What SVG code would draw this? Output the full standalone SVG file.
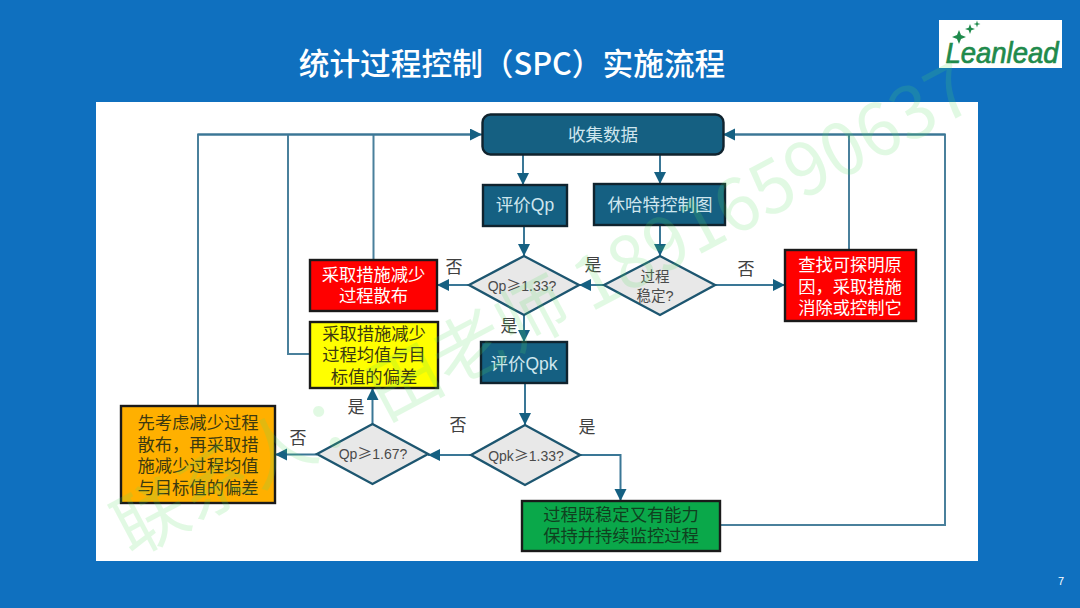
<svg xmlns="http://www.w3.org/2000/svg" width="1080" height="608" viewBox="0 0 1080 608">
<style>
text{font-family:"Liberation Sans","Noto Sans CJK SC",sans-serif;text-anchor:middle}
.cjk{font-family:"Noto Sans CJK SC","Liberation Sans",sans-serif}
.box{stroke:#1a1a1a;stroke-width:2.4}
.blue{fill:#156082;stroke:#10232e;stroke-width:2.4}
.dia{fill:#e8e8e8;stroke:#1d5670;stroke-width:2.4}
.w{fill:#fff;font-size:17.3px}
.y{fill:#cfe6ee;font-size:17.5px}
.d{fill:#3c3a10;font-size:17.3px}
.dk{fill:#4a4a4a;font-size:14px}
.st{fill:#4a4a4a;font-size:14.500px}
.lab{fill:#404040;font-size:17px}
.ln{fill:none;stroke:#4a809c;stroke-width:2}
.ar{fill:none;stroke:#3a7796;stroke-width:2;marker-end:url(#a)}
</style>
<defs>
<marker id="a" markerUnits="userSpaceOnUse" markerWidth="13" markerHeight="13" refX="12" refY="6" orient="auto"><path d="M0 0L12 6L0 12Z" fill="#156082"/></marker>
</defs>
<rect width="1080" height="608" fill="#0f70bf"/>
<rect x="96" y="102" width="882" height="459" fill="#fff"/>
<text id="title" class="cjk" x="512" y="75" font-size="30.700" font-weight="500" fill="#fff">统计过程控制（SPC）实施流程</text>
<g id="logo">
<rect x="939" y="20" width="123" height="48" fill="#fff"/>
<path d="M959 30l2 5 5 2-5 2-2 5-2-5-5-2 5-2zM970 24l1.300 3.700 3.700 1.300-3.700 1.300-1.300 3.700-1.300-3.700-3.700-1.300 3.700-1.300zM977 20.500l.8 2.700 2.700.8-2.700.8-.8 2.700-.8-2.700-2.700-.8 2.700-.8z" fill="#1f8a4c"/>
<text x="1002" y="63" font-size="29" font-style="italic" stroke="#1f8a4c" stroke-width=".7" fill="#1f8a4c" textLength="113" lengthAdjust="spacingAndGlyphs">Leanlead</text>
</g>
<text id="page" x="1061" y="585" font-size="11" fill="#fff">7</text>
<g id="connectors">
<path class="ln" d="M198 406V134.500H470M288 134.500V354H310M373.500 134.500V260"/>
<path class="ar" d="M198 134.500H482"/>
<path class="ln" d="M720 525H945V134.500H735M849 134.500V250"/>
<path class="ar" d="M945 134.500H723"/>
<path class="ar" d="M523 155V185"/>
<path class="ar" d="M660 155V184"/>
<path class="ar" d="M524 226V256"/>
<path class="ar" d="M660 225V256"/>
<path class="ar" d="M604 285H579"/>
<path class="ar" d="M715 285H785"/>
<path class="ar" d="M469 285H437"/>
<path class="ar" d="M524 315V342"/>
<path class="ar" d="M525 383V425"/>
<path class="ar" d="M471 455H428"/>
<path class="ar" d="M317 454.500H275"/>
<path class="ar" d="M372.500 424V388"/>
<path class="ar" d="M580 455H620.500V501"/>
</g>
<g id="collect"><rect class="blue" x="482.500" y="114.500" width="241" height="40" rx="8"/><text class="y" x="603" y="141">收集数据</text></g>
<g id="qp"><rect class="blue" x="483" y="185" width="84" height="41"/><text class="y" x="525" y="211">评价Qp</text></g>
<g id="shewhart"><rect class="blue" x="594" y="184" width="131" height="41"/><text class="y" x="660" y="211">休哈特控制图</text></g>
<g id="qp133"><path class="dia" d="M469 285L524 256L579 285L524 315Z"/><text class="dk" x="522" y="291">Qp<tspan class="cjk" font-size="15">≥</tspan>1.33?</text></g>
<g id="stable"><path class="dia" d="M604 285L660 256L715 285L660 315Z"/><text class="st" x="655" y="282">过程</text><text class="st" x="655" y="301">稳定?</text></g>
<g id="red1"><rect class="box" x="310" y="260" width="127" height="51" fill="#ff0000"/><text class="w" x="373.500" y="281">采取措施减少</text><text class="w" x="373.500" y="302">过程散布</text></g>
<g id="yellow"><rect class="box" x="310" y="322" width="128" height="66" fill="#ffff00"/><text class="d" x="374" y="340">采取措施减少</text><text class="d" x="374" y="361">过程均值与目</text><text class="d" x="374" y="383">标值的偏差</text></g>
<g id="red2"><rect class="box" x="785" y="250" width="131" height="71" fill="#ff0000"/><text class="w" x="850" y="271">查找可探明原</text><text class="w" x="850" y="293">因，采取措施</text><text class="w" x="850" y="314">消除或控制它</text></g>
<g id="qpk"><rect class="blue" x="481" y="342" width="86" height="41"/><text class="y" x="524" y="370">评价Qpk</text></g>
<g id="qpk133"><path class="dia" d="M471 455L525 425L580 455L525 485Z"/><text class="dk" x="526" y="461">Qpk<tspan class="cjk" font-size="15">≥</tspan>1.33?</text></g>
<g id="qp167"><path class="dia" d="M317 454L372.500 424L428 454L372.500 484Z"/><text class="dk" x="373" y="459">Qp<tspan class="cjk" font-size="15">≥</tspan>1.67?</text></g>
<g id="orange"><rect class="box" x="121" y="406" width="154" height="97" fill="#ffb000"/><text class="d" x="198" y="429">先考虑减少过程</text><text class="d" x="198" y="451">散布，再采取措</text><text class="d" x="198" y="472">施减少过程均值</text><text class="d" x="198" y="494">与目标值的偏差</text></g>
<g id="green"><rect class="box" x="522" y="501" width="198" height="50" fill="#0aa84a"/><text class="d" x="621" y="521" style="fill:#10401f">过程既稳定又有能力</text><text class="d" x="621" y="542" style="fill:#10401f">保持并持续监控过程</text></g>
<g id="labels">
<text class="lab" x="454" y="273">否</text><text class="lab" x="593" y="271">是</text><text class="lab" x="746" y="275">否</text><text class="lab" x="509" y="332">是</text><text class="lab" x="356" y="413">是</text><text class="lab" x="458" y="431">否</text><text class="lab" x="587" y="433">是</text><text class="lab" x="298" y="444">否</text>
</g>
<g id="watermark" transform="translate(131 557) rotate(-28)" opacity="0.17"><text x="0" y="0" class="cjk" font-size="72" font-weight="400" fill="#55e060" style="text-anchor:start">联系人：田老师 18916590637</text></g>
</svg>
